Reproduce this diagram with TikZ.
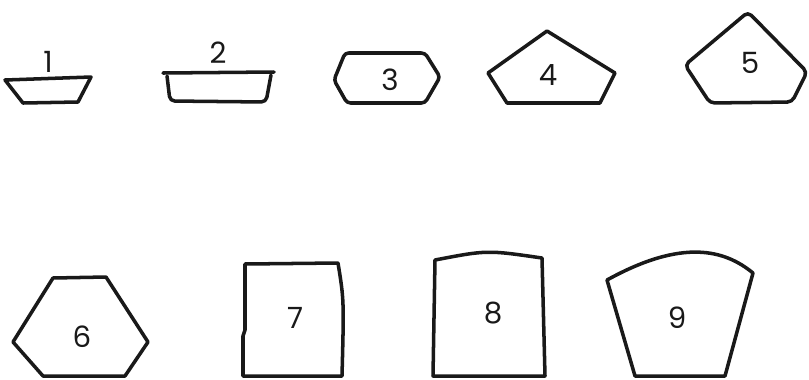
\documentclass[tikz,border=0pt]{standalone}
\usepackage{fontspec}
\setsansfont{Poppins}
\usepackage{tikz}
\begin{document}
\begin{tikzpicture}[
  x=0.03cm,y=-0.03cm,
  outline/.style={draw=black!90,line width=3pt,line join=round,line cap=round},
  num/.style={font=\sffamily\fontsize{25}{28}\selectfont,inner sep=0pt,text=black!90}
]
\useasboundingbox (0,0) rectangle (809,379);
\draw[outline] (5,80) -- (91,77) -- (78,102) -- (23,103) -- cycle;
\draw[outline] (163,73) -- (274,72);
\draw[outline,rounded corners=4pt] (167,76) -- (170,101) -- (266,102) -- (271,75);
\draw[outline,rounded corners=3pt] (345,53) -- (425,53) -- (440,77) -- (425,103) -- (347,103) -- (334,80) -- cycle;
\draw[outline] (547,31) -- (615,73) -- (600,103) -- (507,103) -- (488,73) -- cycle;
\draw[outline,rounded corners=4pt] (748,12) -- (807,72) -- (792,102) -- (710,103) -- (685,65) -- cycle;
\draw[outline] (53,278) -- (106,277) -- (148,342) -- (125,376) -- (43,376) -- (13,342) -- cycle;
\draw[outline] (245,264) -- (338,263) .. controls (344,300) .. (342,376) -- (243,376) -- (243,336) -- (245,330) -- cycle;
\draw[outline] (435,260) .. controls (487,250) .. (542,258) -- (545,376) -- (433,376) -- cycle;
\draw[outline] (607,280) .. controls (683,238) and (725,250) .. (753,273) -- (725,376) -- (635,376) -- cycle;
\node[num] (n1) at (48,62) {1};
\node[num] (n2) at (218,53) {2};
\node[num] (n3) at (390,80) {3};
\node[num] (n4) at (548,75) {4};
\node[num] (n5) at (750,63) {5};
\node[num] (n6) at (82,337) {6};
\node[num] (n7) at (295,318) {7};
\node[num] (n8) at (493,313) {8};
\node[num] (n9) at (677,318) {9};
\end{tikzpicture}
\end{document}
